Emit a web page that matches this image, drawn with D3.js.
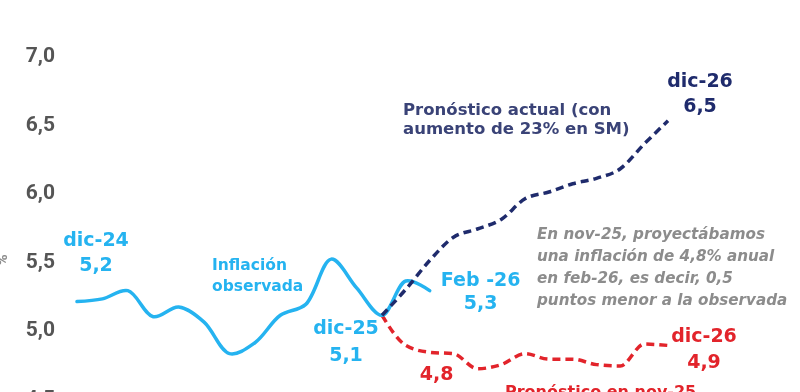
<!DOCTYPE html>
<html>
<head>
<meta charset="utf-8">
<script src="https://cdn.jsdelivr.net/npm/d3@7"></script>
<style>
  body { margin: 0; background: #fff; }
  svg { display: block; filter: blur(0.4px); }
  .lbl { font-family: "DejaVu Sans", sans-serif; font-weight: bold; }
</style>
</head>
<body>
<svg id="chart" width="800" height="392"></svg>
<script>
'use strict';

// month index: 0 = dic-24, 12 = dic-25, 24 = dic-26
let observedMonths = [0, 1, 2, 3, 4, 5, 6, 7, 8, 9, 10, 11, 12, 13, 14];
let observedValues = [5.20, 5.22, 5.28, 5.09, 5.16, 5.05, 4.82, 4.90, 5.10, 5.18, 5.51, 5.30, 5.10, 5.35, 5.28];

let forecastMonths = [12, 13, 14, 15, 16, 17, 18, 19, 20, 21, 22, 23, 24];
let currentForecast = [5.10, 5.29, 5.50, 5.67, 5.73, 5.80, 5.95, 6.00, 6.06, 6.10, 6.17, 6.35, 6.52];
let novForecast = [5.10, 4.88, 4.83, 4.82, 4.71, 4.74, 4.82, 4.78, 4.78, 4.74, 4.73, 4.89, 4.88];

let yTicks = [4.5, 5.0, 5.5, 6.0, 6.5, 7.0];

let svg = d3.select('#chart');

let x = d3.scaleLinear().domain([0, 12, 24]).range([77, 382, 668]);
let y = d3.scaleLinear().domain([4.5, 7.0]).range([397.5, 55]);

let comma = d => d3.format('.1f')(d).replace('.', ',');

let lightBlue = '#25b3f0';
let navy = '#1f2b6c';
let red = '#e2242b';
let gray = '#8c8c8c';

// y axis, labels only
let yAxis = svg.append('g')
    .attr('transform', 'translate(55,0)')
    .call(d3.axisLeft(y).tickValues(yTicks).tickSize(0).tickPadding(0).tickFormat(comma));
yAxis.select('.domain').remove();
yAxis.selectAll('text')
    .attr('fill', '#555')
    .attr('font-family', 'Roboto, sans-serif')
    .attr('font-weight', 'bold')
    .attr('font-size', 21);

// cut-off axis title at the left edge
svg.append('text')
    .attr('transform', 'translate(7,260) rotate(-90)')
    .attr('text-anchor', 'middle')
    .attr('fill', gray)
    .attr('font-family', 'Roboto, sans-serif')
    .attr('font-weight', 'bold')
    .attr('font-size', 15)
    .text('%');

let smooth = d3.line()
    .x(d => x(d[0]))
    .y(d => y(d[1]))
    .curve(d3.curveCatmullRom.alpha(0.5));

let line = d3.line()
    .x(d => x(d[0]))
    .y(d => y(d[1]))
    .curve(d3.curveMonotoneX);

svg.append('path')
    .datum(d3.zip(forecastMonths, novForecast))
    .attr('d', line)
    .attr('fill', 'none')
    .attr('stroke', red)
    .attr('stroke-width', 3.5)
    .attr('stroke-dasharray', '8,5');

svg.append('path')
    .datum(d3.zip(observedMonths, observedValues))
    .attr('d', smooth)
    .attr('fill', 'none')
    .attr('stroke', lightBlue)
    .attr('stroke-width', 3.5)
    .attr('stroke-linejoin', 'round')
    .attr('stroke-linecap', 'round');

svg.append('path')
    .datum(d3.zip(forecastMonths, currentForecast))
    .attr('d', line)
    .attr('fill', 'none')
    .attr('stroke', navy)
    .attr('stroke-width', 3.5)
    .attr('stroke-dasharray', '8,5');

function label(lines, px, py, opts) {
    let t = svg.append('text')
        .attr('class', 'lbl')
        .attr('x', px)
        .attr('y', py)
        .attr('fill', opts.color)
        .attr('font-size', opts.size)
        .attr('text-anchor', opts.anchor || 'middle');
    if (opts.italic) t.attr('font-style', 'italic');
    lines.forEach((s, i) => {
        t.append('tspan')
            .attr('x', px)
            .attr('dy', i === 0 ? 0 : opts.lh)
            .text(s);
    });
}

// point labels
label(['dic-24', comma(observedValues[0])], x(0) + 19, y(observedValues[0]) - 56,
    {color: lightBlue, size: 19, lh: 25});
label(['dic-25', comma(observedValues[12])], x(12) - 36, y(observedValues[12]) + 19,
    {color: lightBlue, size: 19, lh: 27});
label(['Feb -26', comma(5.3)], x(14) + 51, y(5.3) - 2,
    {color: lightBlue, size: 19, lh: 23});
label(['Inflación', 'observada'], 212, 270,
    {color: lightBlue, size: 15.5, lh: 21, anchor: 'start'});

label(['dic-26', comma(6.5)], x(24) + 32, y(6.5) - 37,
    {color: navy, size: 19, lh: 25});
label(['Pronóstico actual (con', 'aumento de 23% en SM)'], 403, 115,
    {color: '#3a4377', size: 16.5, lh: 19, anchor: 'start'});

label([comma(novForecast[2])], x(14) + 7, y(novForecast[2]) + 28,
    {color: red, size: 19});
label(['dic-26', comma(4.9)], x(24) + 36, y(novForecast[12]) - 3,
    {color: red, size: 19, lh: 26});
label(['Pronóstico en nov-25'], 505, 397,
    {color: red, size: 16, anchor: 'start'});

label(['En nov-25, proyectábamos', 'una inflación de 4,8% anual',
    'en feb-26, es decir, 0,5', 'puntos menor a la observada'], 537, 239,
    {color: gray, size: 15.2, lh: 22, anchor: 'start', italic: true});
</script>
</body>
</html>
